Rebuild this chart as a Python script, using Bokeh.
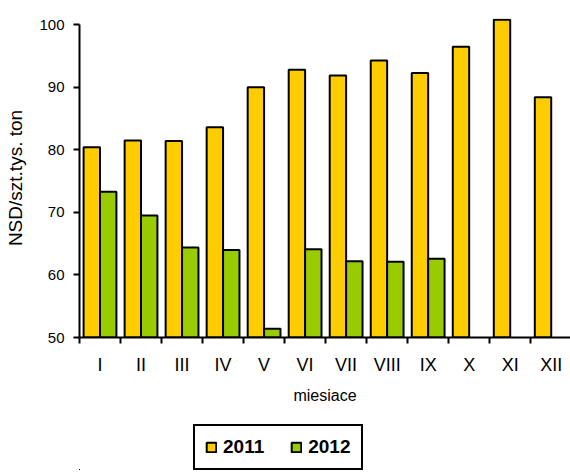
import numpy as np
from bokeh.plotting import figure
from bokeh.layouts import column
from bokeh.models import Range1d, FixedTicker, Legend, LegendItem, ColumnDataSource
from bokeh.transform import dodge
from bokeh.embed import file_html
from bokeh.resources import INLINE

months = ["I", "II", "III", "IV", "V", "VI", "VII", "VIII", "IX", "X", "XI", "XII"]
values_2011 = [80.4, 81.5, 81.4, 83.6, 90.0, 92.8, 91.9, 94.3, 92.3, 96.5, 100.8, 88.4]
values_2012 = [73.3, 69.5, 64.4, 64.0, 51.4, 64.1, 62.2, 62.1, 62.6, np.nan, np.nan, np.nan]
y_ticks = [50, 60, 70, 80, 90, 100]
series_names = ["2011", "2012"]
colors = ["#FFCC00", "#99CC00"]

idx = list(range(len(months)))
src = ColumnDataSource(dict(x=idx, y2011=values_2011, y2012=values_2012))

FONT = "Liberation Sans"

p = figure(width=570, height=410, output_backend="svg", toolbar_location=None,
           x_range=Range1d(-0.5, 11.47), y_range=Range1d(50, 101),
           min_border_left=79, min_border_right=0, min_border_top=18, min_border_bottom=73)
p.outline_line_color = None
p.xgrid.visible = False
p.ygrid.visible = False

r1 = p.vbar(x=dodge("x", -0.2, range=p.x_range), top="y2011", bottom=50, width=0.4, source=src,
            fill_color=colors[0], line_color="black", line_width=2)
r2 = p.vbar(x=dodge("x", 0.2, range=p.x_range), top="y2012", bottom=50, width=0.4, source=src,
            fill_color=colors[1], line_color="black", line_width=2)

# y axis
ya = p.yaxis[0]
ya.ticker = FixedTicker(ticks=y_ticks)
ya.bounds = (50, 100)
ya.axis_line_width = 2
ya.axis_line_color = "black"
ya.major_tick_out = 6
ya.major_tick_in = 0
ya.major_tick_line_width = 2
ya.minor_tick_line_color = None
ya.major_label_standoff = 9
ya.major_label_text_font = FONT
ya.major_label_text_font_size = "15px"
ya.major_label_text_color = "black"
ya.axis_label = "NSD/szt.tys. ton"
ya.axis_label_text_font = FONT
ya.axis_label_text_font_size = "19px"
ya.axis_label_text_font_style = "normal"
ya.axis_label_text_color = "black"
ya.axis_label_standoff = 10

# x axis
xa = p.xaxis[0]
xa.ticker = FixedTicker(ticks=idx, minor_ticks=[i - 0.5 for i in range(len(months) + 1)])
xa.major_label_overrides = {i: m for i, m in zip(idx, months)}
xa.axis_line_width = 2
xa.axis_line_color = "black"
xa.major_tick_out = 0
xa.major_tick_in = 0
xa.minor_tick_out = 6
xa.minor_tick_in = 0
xa.minor_tick_line_width = 2
xa.minor_tick_line_color = "black"
xa.major_label_standoff = 11
xa.major_label_text_font = FONT
xa.major_label_text_font_size = "18px"
xa.major_label_text_color = "black"
xa.axis_label = "miesiace"
xa.axis_label_text_font = FONT
xa.axis_label_text_font_size = "16px"
xa.axis_label_text_font_style = "normal"
xa.axis_label_text_color = "black"
xa.axis_label_standoff = 9

# legend strip below the chart (its bars lie well outside its visible range)
p2 = figure(width=570, height=60, output_backend="svg", toolbar_location=None,
            x_range=Range1d(100, 101), y_range=Range1d(200, 201),
            x_axis_location=None, y_axis_location=None,
            min_border_left=0, min_border_right=0, min_border_top=0, min_border_bottom=0)
p2.outline_line_color = None
p2.xgrid.visible = False
p2.ygrid.visible = False
l1 = p2.vbar(x="x", top="y2011", bottom=50, width=0.4, source=src,
             fill_color=colors[0], line_color="black", line_width=2)
l2 = p2.vbar(x="x", top="y2012", bottom=50, width=0.4, source=src,
             fill_color=colors[1], line_color="black", line_width=2)

legend = Legend(items=[LegendItem(label=series_names[0], renderers=[l1]),
                       LegendItem(label=series_names[1], renderers=[l2])],
                orientation="horizontal", location=(114, 0),
                border_line_color="black", border_line_width=2, border_line_alpha=1.0,
                label_text_font=FONT, label_text_font_style="bold", label_text_font_size="19px",
                label_text_color="black",
                glyph_width=12, glyph_height=12, label_standoff=6, spacing=26,
                padding=10, margin=0)
p2.add_layout(legend, "center")

layout = column(p, p2, spacing=0)
open("out.html", "w").write(file_html(layout, INLINE))
